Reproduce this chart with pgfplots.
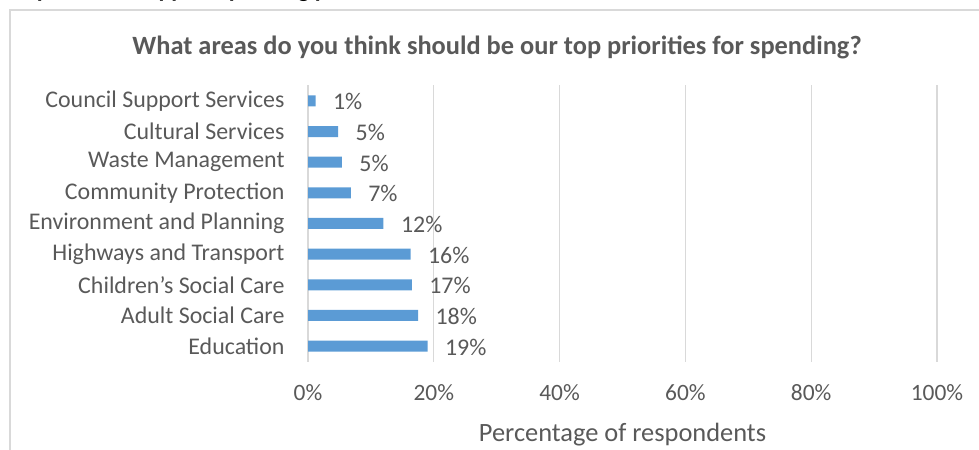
\documentclass[border=0pt]{standalone}
\usepackage{pgfplots}
\pgfplotsset{compat=1.18}
\usepackage{fontspec}
\setmainfont{Carlito}
\definecolor{barblue}{HTML}{5B9BD5}
\definecolor{txt}{HTML}{595959}
\definecolor{gridc}{HTML}{D9D9D9}
\definecolor{framec}{HTML}{D9D9D9}
\begin{document}
\begin{tikzpicture}[x=1bp,y=1bp]
\useasboundingbox (0,0) rectangle (979,450);
\begin{scope}
\clip (0,0) rectangle (979,450);
\node[anchor=base west, font=\fontsize{24}{28}\selectfont\bfseries, text=black, inner sep=0pt] at (2,452.8) {Respondents support spending priorities};
\end{scope}
\draw[framec, line width=1.5bp] (10,0) -- (10,440) -- (979,440);
\node[font=\fontsize{26.5}{30}\selectfont\bfseries, text=txt] at (497,403) {What areas do you think should be our top priorities for spending?};
\begin{axis}[
  at={(308bp,88bp)}, anchor=south west,
  scale only axis, width=629bp, height=277bp,
  xbar, bar width=11bp,
  xmin=0, xmax=100, ymin=-0.52, ymax=8.52,
  xtick={0,20,40,60,80,100},
  xticklabel={\pgfmathprintnumber{\tick}\%},
  ytick={0,...,8},
  yticklabels={Education,Adult Social Care,Children’s Social Care,Highways and Transport,Environment and Planning,Community Protection,Waste Management,Cultural Services,Council Support Services},
  /pgf/number format/assume math mode=true,
  xticklabel style={font=\fontsize{23.5}{27}\selectfont, text=txt, yshift=-19bp},
  yticklabel style={font=\fontsize{24}{28}\selectfont, text=txt, xshift=-20bp},
  xmajorgrids, ymajorgrids=false, grid style={draw=gridc, line width=1.2bp},
  axis line style={draw=none},
  major tick length=0pt,
  xlabel={Percentage of respondents},
  xlabel style={font=\fontsize{26.5}{30}\selectfont, text=txt, yshift=-16bp},
  nodes near coords={\pgfplotspointmeta\%},
  point meta=explicit symbolic,
  nodes near coords style={font=\fontsize{24}{28}\selectfont, text=txt, anchor=west, xshift=14bp, yshift=-1bp},
  clip=false,
]
\addplot[fill=barblue, draw=none] table[meta=lab] {
x y lab
19.0 0 19
17.5 1 18
16.5 2 17
16.3 3 16
12.0 4 12
6.8 5 7
5.4 6 5
4.8 7 5
1.2 8 1
};
\end{axis}
\end{tikzpicture}
\end{document}
